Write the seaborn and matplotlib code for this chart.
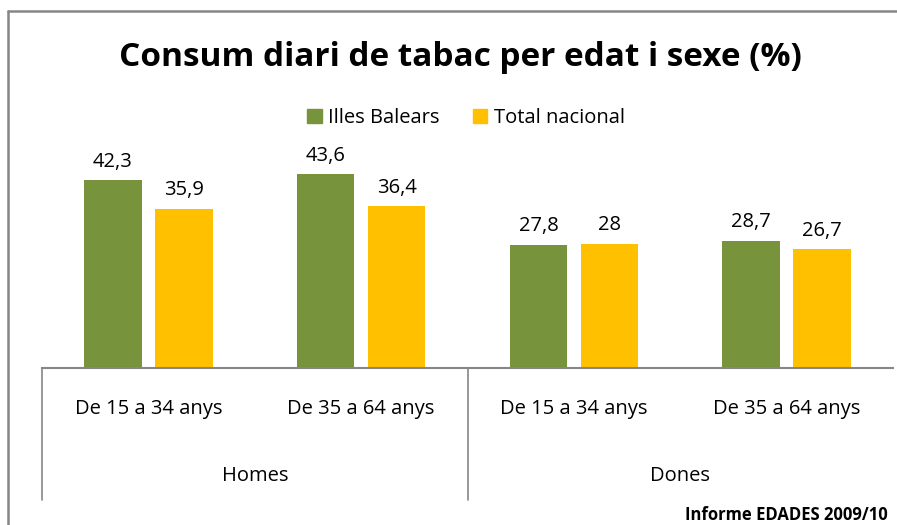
import pandas as pd
import numpy as np
import matplotlib
matplotlib.use("Agg")
import matplotlib.pyplot as plt
import matplotlib.transforms as mtransforms
from matplotlib.lines import Line2D
import seaborn as sns

# data
sexes = ["Homes", "Homes", "Dones", "Dones"]
ages = ["De 15 a 34 anys", "De 35 a 64 anys", "De 15 a 34 anys", "De 35 a 64 anys"]
balears = [42.3, 43.6, 27.8, 28.7]
nacional = [35.9, 36.4, 28.0, 26.7]
series = ["Illes Balears", "Total nacional"]
colors = ["#77933C", "#FFC000"]

keys = [s + " | " + a for s, a in zip(sexes, ages)]
df = pd.DataFrame({
    "cat": keys * 2,
    "serie": [series[0]] * 4 + [series[1]] * 4,
    "valor": balears + nacional,
})

sns.set_theme(style="white")
plt.rcParams["font.family"] = ["Open Sans", "DejaVu Sans"]
plt.rcParams["text.color"] = "black"

fig = plt.figure(figsize=(8.97, 5.25), dpi=100)
ax = fig.add_axes([42 / 897, (525 - 368) / 525, (893 - 42) / 897, 222 / 525])

sns.barplot(data=df, x="cat", y="valor", hue="serie", order=keys,
            hue_order=series, palette=colors, width=0.667, gap=0.19,
            saturation=1, legend=False, linewidth=0, ax=ax)

def fmt(v):
    s = ("%.1f" % v).replace(".", ",")
    return s[:-2] if s.endswith(",0") else s

for cont in ax.containers:
    ax.bar_label(cont, labels=[fmt(v) for v in cont.datavalues],
                 padding=6, fontsize=14.5, color="black")

ax.set_ylim(0, 50)
ax.set_xlim(-0.5, 3.5)
ax.set_yticks([])
ax.set_xticks([])
ax.set_xlabel("")
ax.set_ylabel("")
for side in ["left", "right", "top"]:
    ax.spines[side].set_visible(False)
ax.spines["bottom"].set_color("#868686")
ax.spines["bottom"].set_linewidth(1.5)

# two-level category axis
trans = mtransforms.blended_transform_factory(ax.transData, ax.transAxes)
for i, a in enumerate(ages):
    ax.text(i, -0.185, a, transform=trans, ha="center", va="center", fontsize=14.5)
for i, s in enumerate(["Homes", "Dones"]):
    ax.text(2 * i + 0.5, -0.485, s, transform=trans, ha="center", va="center", fontsize=14.5)
for xs in [-0.5, 1.5]:
    ax.plot([xs, xs], [0, -0.595], transform=trans, color="#868686",
            lw=1.2, clip_on=False)

# legend
handles = [plt.Rectangle((0, 0), 1, 1, color=c) for c in colors]
fig.legend(handles, series, loc="center", bbox_to_anchor=(466 / 897, 1 - 118 / 525),
           ncol=2, frameon=False, fontsize=14.5, handlelength=0.7, handleheight=0.7,
           handletextpad=0.3, columnspacing=1.7)

fig.text(460 / 897, 1 - 57 / 525, "Consum diari de tabac per edat i sexe (%)",
         ha="center", va="center", fontsize=24, fontweight="bold")
fig.text(888 / 897, 1 - 515 / 525, "Informe EDADES 2009/10", ha="right",
         va="center", fontsize=12, fontweight="bold")

# chart frame
fig.add_artist(Line2D([8 / 897, 8 / 897], [0, 1 - 11 / 525], color="#868686", lw=1.8))
fig.add_artist(Line2D([8 / 897, 1], [1 - 11 / 525, 1 - 11 / 525], color="#868686", lw=1.8))

fig.savefig("out.png", dpi=100, facecolor="white")
